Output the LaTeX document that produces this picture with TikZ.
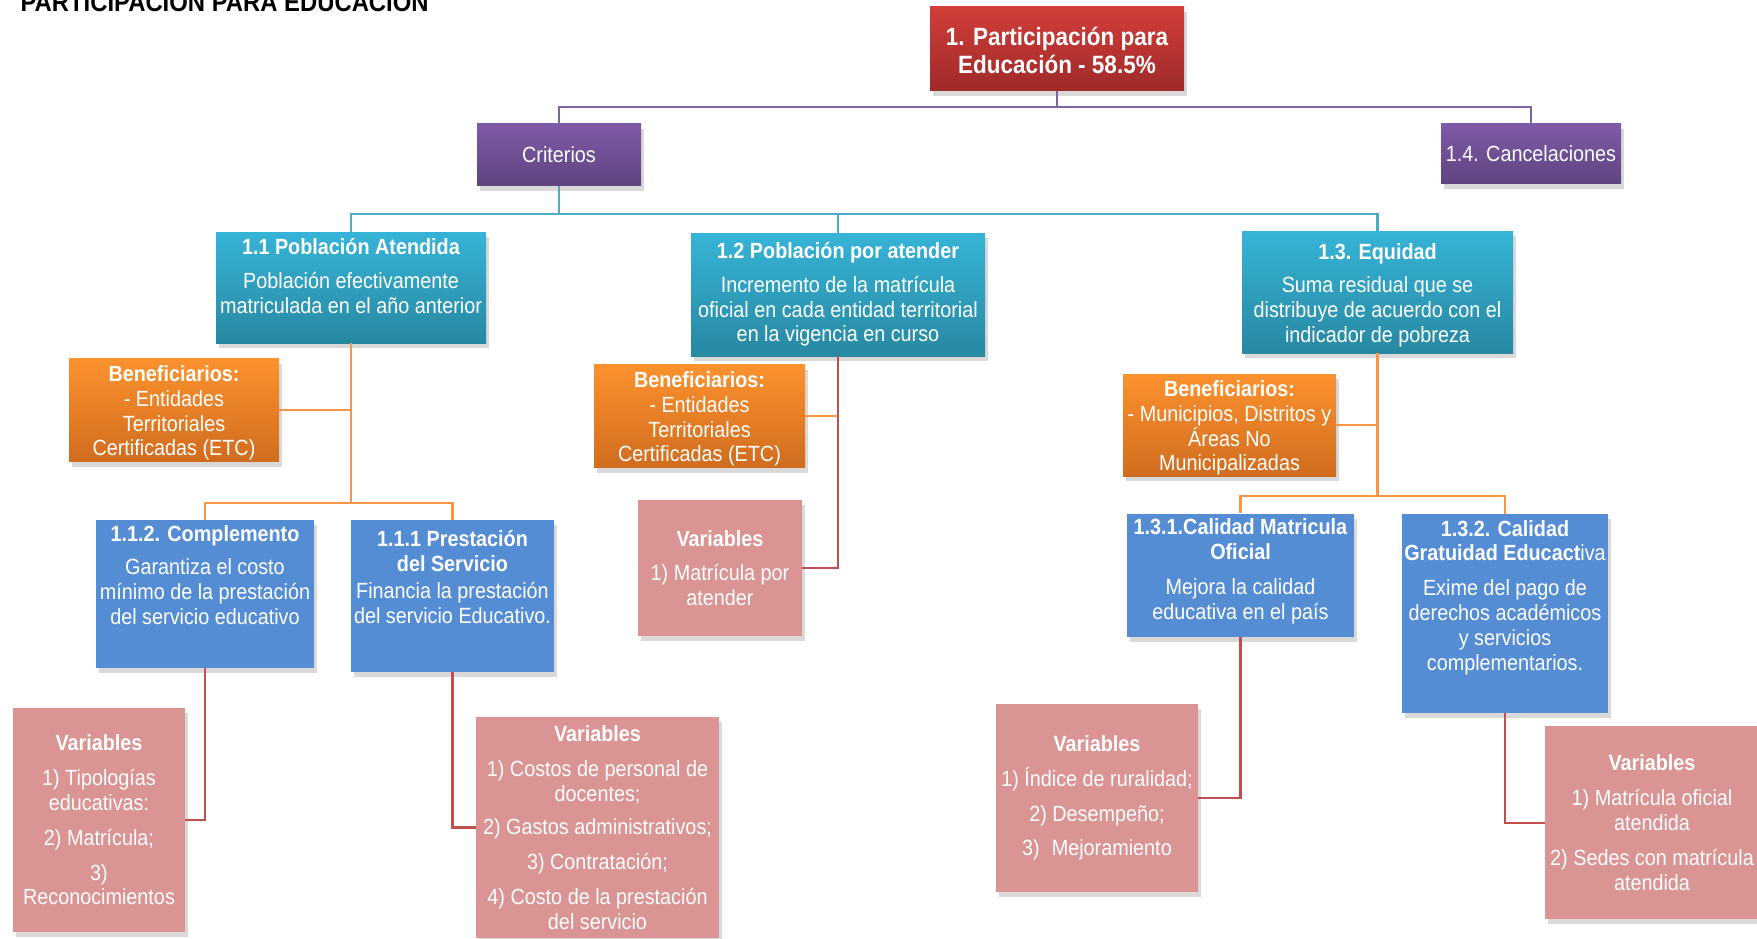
\documentclass[tikz,border=0pt]{standalone}
\usepackage{fontspec}
\setmainfont{Liberation Sans}[FakeStretch=0.9]
\usetikzlibrary{positioning, shadows}
\definecolor{redtop}{RGB}{210,62,58}
\definecolor{redbot}{RGB}{158,42,40}
\definecolor{purtop}{RGB}{128,90,168}
\definecolor{purbot}{RGB}{94,68,128}
\definecolor{cyantop}{RGB}{54,180,215}
\definecolor{cyanbot}{RGB}{40,136,162}
\definecolor{orgtop}{RGB}{252,146,46}
\definecolor{orgbot}{RGB}{208,108,30}
\definecolor{bluebox}{RGB}{85,141,213}
\definecolor{pinkbox}{RGB}{217,148,147}
\definecolor{purline}{RGB}{128,100,162}
\definecolor{cyanline}{RGB}{75,172,198}
\definecolor{orgline}{RGB}{247,150,70}
\definecolor{redline}{RGB}{192,80,77}
\newcommand{\tallstrut}{\rule{0pt}{22pt}}
\tikzset{
    sz/.style 2 args = {minimum width=#1pt, minimum height=#2pt},
    boxbase/.style = {rectangle, inner sep=0pt, align=center, text=white,
                        font=\fontsize{22}{24.8}\selectfont,
                        drop shadow={shadow xshift=3pt, shadow yshift=-5pt, opacity=0.3}},
    mainbox/.style = {boxbase, top color=redtop, bottom color=redbot,
                        font=\bfseries\fontsize{25}{28}\selectfont},
    purbox/.style = {boxbase, top color=purtop, bottom color=purbot},
    cyanbox/.style = {boxbase, top color=cyantop, bottom color=cyanbot},
    benbox/.style = {boxbase, top color=orgtop, bottom color=orgbot},
    subbox/.style = {boxbase, fill=bluebox},
    varbox/.style = {boxbase, fill=pinkbox},
    txt/.style = {align=center, text=white, inner sep=0pt, font=\fontsize{22}{24.8}\selectfont},
    conn/.style = {line width=2.2pt}
}
\begin{document}
\begin{tikzpicture}[x=1pt, y=-1pt]
		\useasboundingbox (0,0) rectangle (1757,939);
		\node (ttl) [anchor=base west, font=\bfseries\fontsize{26.5}{30}\selectfont] at (17,11.5) {PARTICIPACIÓN PARA EDUCACIÓN\raisebox{5pt}{\textsuperscript{1}}};
		% level 1
		\node (pe) [mainbox, sz={254}{84}] at (1057,49) {\tallstrut1. Participación para\\Educación - 58.5\%};
		\node (cri) [purbox, sz={164}{62}] at (559,155) {Criterios};
		\node (can) [purbox, sz={180}{60}] at (1531,154) {1.4. Cancelaciones};
		\draw [conn, purline] (pe.south) -- ++(0,16) -| (cri);
		\draw [conn, purline] (pe.south) -- ++(0,16) -| (can);
		% criterios
		\node (pa) [cyanbox, sz={270}{111}] at (351,287.5) {};
		\node (pa-t) [txt] at (351,276) {\textbf{1.1 Población Atendida}\\[10pt]Población efectivamente\\matriculada en el año anterior};
		\node (pp) [cyanbox, sz={294}{123}] at (838,294.5) {\textbf{1.2 Población por atender}\\[9pt]Incremento de la matrícula\\oficial en cada entidad territorial\\en la vigencia en curso};
		\node (eq) [cyanbox, sz={271}{122}] at (1377.5,292) {\tallstrut\textbf{1.3. Equidad}\\[9pt]Suma residual que se\\distribuye de acuerdo con el\\indicador de pobreza};
		\draw [conn, cyanline] (cri.south) -- ++(0,28) -| (pa);
		\draw [conn, cyanline] (cri.south) -- ++(0,28) -| (pp);
		\draw [conn, cyanline] (cri.south) -- ++(0,28) -| (eq);
		% beneficiarios
		\node (ben1) [benbox, sz={210}{103}] at (174,410) {\tallstrut\textbf{Beneficiarios:}\\- Entidades\\Territoriales\\Certificadas (ETC)};
		\node (ben2) [benbox, sz={211}{103}] at (699.5,416) {\tallstrut\textbf{Beneficiarios:}\\- Entidades\\Territoriales\\Certificadas (ETC)};
		\node (ben3) [benbox, sz={213}{102}] at (1229.5,425) {\tallstrut\textbf{Beneficiarios:}\\- Municipios, Distritos y\\Áreas No\\Municipalizadas};
		% componentes
		\node (compl) [subbox, sz={218}{148}] at (205,594) {};
		\node (compl-t) [txt] at (205,575) {\textbf{1.1.2. Complemento}\\[9pt]Garantiza el costo\\mínimo de la prestación\\del servicio educativo};
		\node (prest) [subbox, sz={203}{152}] at (452.5,596) {};
		\node (prest-t) [txt] at (452.5,577) {\textbf{1.1.1 Prestación}\\\textbf{del Servicio}\\[3pt]Financia la prestación\\del servicio Educativo.};
		\node (cm) [subbox, sz={227}{123}] at (1240.5,575) {};
		\node (cm-t) [txt] at (1240.5,571.5) {\textbf{1.3.1.Calidad Matricula}\\\textbf{Oficial}\\[10pt]Mejora la calidad\\educativa en el país};
		\node (cg) [subbox, sz={206}{199}] at (1505,613.5) {};
		\node (cg-t) [txt] at (1505,597.5) {\textbf{1.3.2. Calidad}\\\textbf{Gratuidad Educact}iva\\[10pt]Exime del pago de\\derechos académicos\\y servicios\\complementarios.};
		\draw [conn, orgline] (pa) |- (ben1);
		\draw [conn, orgline] (pa.south) -- ++(0,160) -| (compl);
		\draw [conn, orgline] (pa.south) -- ++(0,160) -| (prest);
		\draw [conn, orgline] (pp) |- (ben2);
		\draw [conn, orgline] (eq) |- (ben3);
		\draw [conn, orgline] (eq.south) -- ++(0,143) -| (cm);
		\draw [conn, orgline] (eq.south) -- ++(0,143) -| (cg);
		% variables
		\node (var1) [varbox, sz={172}{224}] at (99,820) {\textbf{Variables}\\[10pt]1) Tipologías\\educativas:\\[10pt]2) Matrícula;\\[10pt]3)\\Reconocimientos};
		\node (var2) [varbox, sz={243}{221}] at (597.5,827.5) {\textbf{Variables}\\[10pt]1) Costos de personal de\\docentes;\\[9pt]2) Gastos administrativos;\\[10pt]3) Contratación;\\[10pt]4) Costo de la prestación\\del servicio};
		\node (var3) [varbox, sz={164}{136}] at (720,568) {\textbf{Variables}\\[10pt]1) Matrícula por\\atender};
		\node (var4) [varbox, sz={202}{188}] at (1097,798) {\textbf{Variables}\\[10pt]1) Índice de ruralidad;\\[10pt]2) Desempeño;\\[10pt]3)\hspace{12pt}Mejoramiento};
		\node (var5) [varbox, sz={214}{193}] at (1652,822.7) {\textbf{Variables}\\[10pt]1) Matrícula oficial\\atendida\\[10pt]2) Sedes con matrícula\\atendida};
		\draw [conn, redline] (compl) |- (var1);
		\draw [conn, redline] (prest) |- (var2);
		\draw [conn, redline] (pp) |- (var3);
		\draw [conn, redline] (cm) |- (var4);
		\draw [conn, redline] (cg) |- (var5);
	\end{tikzpicture}
\end{document}
